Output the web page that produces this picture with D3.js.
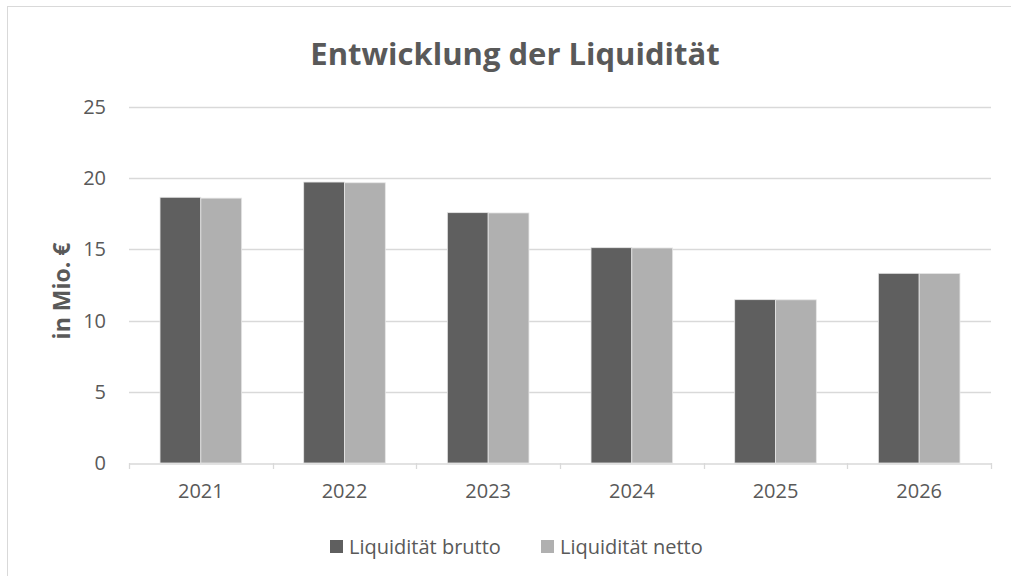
<!DOCTYPE html>
<html>
<head>
<meta charset="utf-8">
<script src="https://cdn.jsdelivr.net/npm/d3@7"></script>
<style>
  body { margin: 0; background: #fff; }
  svg text { font-family: "Open Sans", "Noto Sans", sans-serif; fill: #595959; }
</style>
</head>
<body>
<div id="chart"></div>
<script>
const years = ['2021', '2022', '2023', '2024', '2025', '2026'];
const brutto = [18.66, 19.73, 17.58, 15.12, 11.47, 13.32];
const netto = [18.6, 19.68, 17.56, 15.1, 11.46, 13.31];
const seriesNames = ['Liquidität brutto', 'Liquidität netto'];
const seriesColors = ['#5f5f5f', '#b0b0b0'];
const yTicks = [0, 5, 10, 15, 20, 25];

const width = 1011, height = 576;
const margin = { top: 107, right: 20, bottom: 113, left: 129 };

const svg = d3.select('#chart').append('svg')
    .attr('width', width)
    .attr('height', height);

// outer chart border (only top/left show inside the frame)
svg.append('rect')
    .attr('x', 7.5).attr('y', 6.5)
    .attr('width', 1010).attr('height', 580)
    .attr('fill', 'none')
    .attr('stroke', '#d9d9d9');

const x = d3.scaleBand()
    .domain(years)
    .range([margin.left, width - margin.right]);

const x1 = d3.scaleBand()
    .domain(seriesNames)
    .range([0, x.bandwidth()])
    .paddingInner(0)
    .paddingOuter(0.76);

const y = d3.scaleLinear()
    .domain([0, 25])
    .range([height - margin.bottom, margin.top]);

// gridlines
svg.append('g')
    .selectAll('line')
    .data(yTicks.filter(d => d > 0))
    .join('line')
    .attr('x1', margin.left)
    .attr('x2', width - margin.right)
    .attr('y1', d => Math.round(y(d)) + 0.5)
    .attr('y2', d => Math.round(y(d)) + 0.5)
    .attr('stroke', '#d9d9d9')
    .attr('stroke-width', 1.3);

// y tick labels
svg.append('g')
    .selectAll('text')
    .data(yTicks)
    .join('text')
    .attr('x', 106)
    .attr('y', d => y(d))
    .attr('dy', '0.35em')
    .attr('text-anchor', 'end')
    .style('font-size', '20px')
    .text(d => d);

// bars
const rows = years.map((yr, i) => ({ year: yr, values: [brutto[i], netto[i]] }));
svg.append('g')
    .selectAll('g')
    .data(rows)
    .join('g')
    .attr('transform', d => `translate(${x(d.year)},0)`)
    .selectAll('rect')
    .data(d => d.values.map((v, j) => ({ name: seriesNames[j], value: v, color: seriesColors[j] })))
    .join('rect')
    .attr('x', d => x1(d.name))
    .attr('width', x1.bandwidth())
    .attr('y', d => y(d.value))
    .attr('height', d => y(0) - y(d.value))
    .attr('fill', d => d.color)
    .attr('stroke', '#e6e6e6')
    .attr('stroke-width', 0.8);

// x axis
const xAxis = svg.append('g')
    .attr('transform', `translate(0,${Math.round(y(0)) + 0.5})`)
    .call(d3.axisBottom(x).tickSize(0).tickPadding(20));
xAxis.select('.domain').attr('stroke', '#d9d9d9').attr('stroke-width', 1.3);
xAxis.selectAll('text').style('font-size', '20px').attr('fill', '#595959');

// category separator ticks
svg.append('g')
    .selectAll('line')
    .data(years.map(d => x(d)).concat([x(years[years.length - 1]) + x.bandwidth()]))
    .join('line')
    .attr('x1', d => Math.round(d) + 0.5)
    .attr('x2', d => Math.round(d) + 0.5)
    .attr('y1', y(0))
    .attr('y2', y(0) + 6)
    .attr('stroke', '#d9d9d9')
    .attr('stroke-width', 1.3);

// title
svg.append('text')
    .attr('x', 515)
    .attr('y', 65)
    .attr('text-anchor', 'middle')
    .style('font-size', '31px')
    .style('font-weight', 'bold')
    .text('Entwicklung der Liquidität');

// y axis title
svg.append('text')
    .attr('transform', 'translate(70,291) rotate(-90)')
    .attr('text-anchor', 'middle')
    .style('font-size', '23px')
    .style('font-weight', 'bold')
    .text('in Mio. €');

// legend
const legendX = [330, 541];
const legend = svg.append('g')
    .selectAll('g')
    .data(seriesNames)
    .join('g')
    .attr('transform', (d, i) => `translate(${legendX[i]},540)`);
legend.append('rect')
    .attr('width', 13).attr('height', 13)
    .attr('fill', (d, i) => seriesColors[i]);
legend.append('text')
    .attr('x', 19)
    .attr('y', 7)
    .attr('dy', '0.35em')
    .style('font-size', '20px')
    .text(d => d);
</script>
</body>
</html>
